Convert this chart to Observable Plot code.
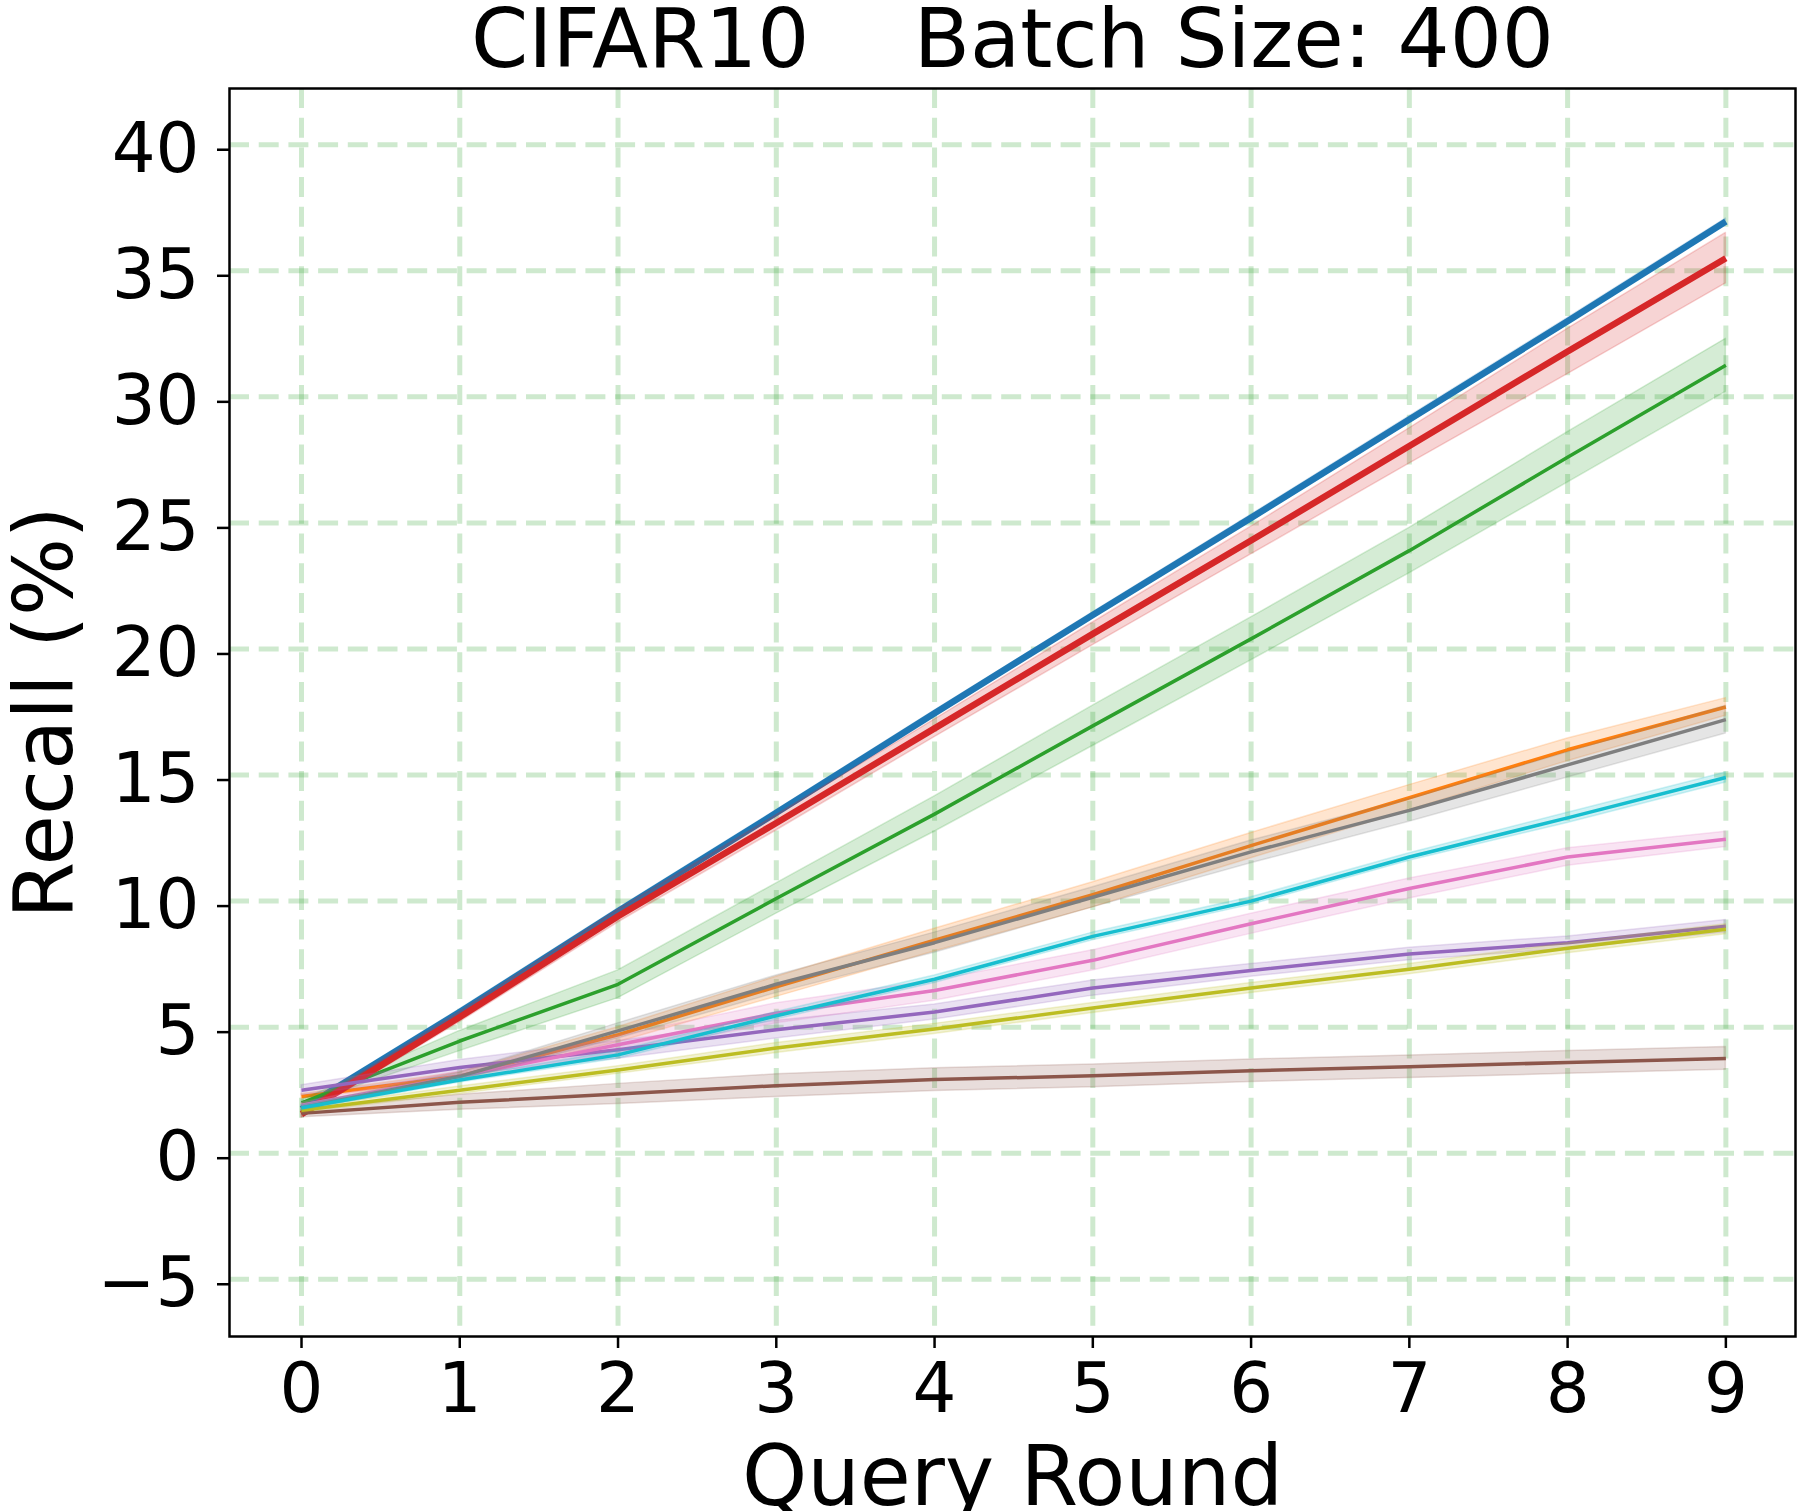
<!DOCTYPE html>
<html>
<head>
<meta charset="utf-8">
<script src="https://cdn.jsdelivr.net/npm/d3@7"></script>
<script src="https://cdn.jsdelivr.net/npm/@observablehq/plot@0.6"></script>
<style>
  html, body { margin: 0; padding: 0; background: #fff; }
  svg text { white-space: pre; }
</style>
</head>
<body>
<div id="chart"></div>
<script>
const rounds = [0, 1, 2, 3, 4, 5, 6, 7, 8, 9];
const xTicks = [0, 1, 2, 3, 4, 5, 6, 7, 8, 9];
const yTicks = [-5, 0, 5, 10, 15, 20, 25, 30, 35, 40];

const seriesNames  = ["blue", "orange", "green", "red", "purple", "brown", "pink", "gray", "olive", "cyan"];
const seriesColors = ["#1f77b4", "#ff7f0e", "#2ca02c", "#d62728", "#9467bd", "#8c564b", "#e377c2", "#7f7f7f", "#bcbd22", "#17becf"];
const seriesWidths = [6.5, 3.5, 3.5, 6.5, 3.5, 3.5, 3.5, 3.5, 3.5, 3.5];

const meanBlue   = [1.75, 5.6, 9.6, 13.5, 17.45, 21.35, 25.2, 29.1, 33.0, 36.95];
const meanOrange = [2.25, 3.05, 4.7, 6.6, 8.45, 10.25, 12.2, 14.1, 16.0, 17.7];
const meanGreen  = [2.0, 4.45, 6.7, 10.1, 13.45, 16.95, 20.4, 23.9, 27.6, 31.25];
const meanRed    = [1.55, 5.4, 9.4, 13.1, 16.85, 20.6, 24.3, 28.05, 31.8, 35.5];
const meanPurple = [2.5, 3.4, 4.1, 4.9, 5.6, 6.55, 7.25, 7.9, 8.35, 9.0];
const meanBrown  = [1.58, 2.02, 2.35, 2.68, 2.92, 3.07, 3.27, 3.43, 3.6, 3.76];
const meanPink   = [1.9, 3.05, 4.3, 5.55, 6.45, 7.65, 9.1, 10.5, 11.75, 12.45];
const meanGray   = [1.8, 3.05, 4.85, 6.7, 8.35, 10.15, 11.95, 13.6, 15.4, 17.2];
const meanOlive  = [1.7, 2.5, 3.3, 4.17, 4.93, 5.76, 6.55, 7.3, 8.13, 8.88];
const meanCyan   = [1.8, 2.9, 3.9, 5.45, 6.9, 8.6, 10.0, 11.75, 13.3, 14.9];

const sdBlue   = [0.1, 0.1, 0.1, 0.1, 0.1, 0.1, 0.12, 0.12, 0.12, 0.12];
const sdOrange = [0.1, 0.15, 0.3, 0.4, 0.45, 0.5, 0.5, 0.5, 0.45, 0.35];
const sdGreen  = [0.1, 0.4, 0.55, 0.6, 0.7, 0.8, 0.85, 0.9, 1.0, 1.05];
const sdRed    = [0.15, 0.2, 0.25, 0.3, 0.35, 0.45, 0.55, 0.7, 0.9, 1.0];
const sdPurple = [0.2, 0.3, 0.35, 0.35, 0.3, 0.3, 0.25, 0.25, 0.25, 0.25];
const sdBrown  = [0.15, 0.3, 0.4, 0.45, 0.45, 0.45, 0.45, 0.45, 0.45, 0.45];
const sdPink   = [0.1, 0.2, 0.35, 0.4, 0.4, 0.4, 0.4, 0.4, 0.35, 0.3];
const sdGray   = [0.1, 0.15, 0.3, 0.35, 0.4, 0.4, 0.45, 0.45, 0.5, 0.55];
const sdOlive  = [0.1, 0.15, 0.15, 0.2, 0.2, 0.2, 0.2, 0.2, 0.2, 0.2];
const sdCyan   = [0.1, 0.1, 0.15, 0.15, 0.15, 0.15, 0.15, 0.15, 0.2, 0.2];

const titleText = "CIFAR10    Batch Size: 400";
const xLabel = "Query Round";
const yLabel = "Recall (%)";

const means = [meanBlue, meanOrange, meanGreen, meanRed, meanPurple, meanBrown, meanPink, meanGray, meanOlive, meanCyan];
const sds   = [sdBlue, sdOrange, sdGreen, sdRed, sdPurple, sdBrown, sdPink, sdGray, sdOlive, sdCyan];

const FONT = "DejaVu Sans";
const gridColor = "#2ca02c";

const seriesMarks = [];
seriesNames.forEach((name, k) => {
  const rows = rounds.map((r, i) => ({
    series: name, x: r, y: means[k][i],
    lo: means[k][i] - sds[k][i], hi: means[k][i] + sds[k][i]
  }));
  seriesMarks.push(Plot.areaY(rows, {
    x: "x", y1: "lo", y2: "hi",
    fill: seriesColors[k], fillOpacity: 0.2,
    stroke: seriesColors[k], strokeOpacity: 0.2, strokeWidth: 1.5
  }));
  seriesMarks.push(Plot.line(rows, {
    x: "x", y: "y", stroke: seriesColors[k], strokeWidth: seriesWidths[k],
    strokeLinejoin: "round", strokeLinecap: "butt"
  }));
});

const chart = Plot.plot({
  width: 1812,
  height: 1511,
  marginLeft: 229,
  marginRight: 17,
  marginTop: 88,
  marginBottom: 175,
  style: { fontFamily: FONT, background: "#fff", color: "#000", overflow: "visible" },
  x: { domain: [-0.455, 9.44], label: null },
  y: { domain: [-7.27, 42.23], label: null },
  marks: [
    Plot.ruleX(xTicks, { x: d => d, stroke: gridColor, strokeOpacity: 0.23, strokeWidth: 5, strokeDasharray: "20,9.7" }),
    Plot.ruleY(yTicks, { y: d => d, stroke: gridColor, strokeOpacity: 0.23, strokeWidth: 5, strokeDasharray: "20,9.7" }),
    ...seriesMarks,
    Plot.frame({ stroke: "#000", strokeWidth: 2.5 }),
    Plot.axisX({ ticks: xTicks, tickSize: 12, tickPadding: 14, fontSize: 69, strokeWidth: 2.5, label: null, tickFormat: d => String(d) }),
    Plot.axisY({ ticks: yTicks, tickSize: 12, tickPadding: 18, fontSize: 69, strokeWidth: 2.5, label: null, dy: 5,
      tickFormat: d => d < 0 ? "\u2212" + Math.abs(d) : String(d) }),
    Plot.text([titleText], { text: d => d, frameAnchor: "top", dy: -22, lineAnchor: "bottom", fontSize: 82, fill: "#000" }),
    Plot.text([xLabel], { text: d => d, frameAnchor: "bottom", dy: 168, lineAnchor: "bottom", fontSize: 83, fill: "#000" }),
    Plot.text([yLabel], { text: d => d, frameAnchor: "left", textAnchor: "middle", dx: -158, rotate: -90, lineAnchor: "bottom", fontSize: 82, fill: "#000" })
  ]
});
document.getElementById("chart").appendChild(chart);
</script>
</body>
</html>
